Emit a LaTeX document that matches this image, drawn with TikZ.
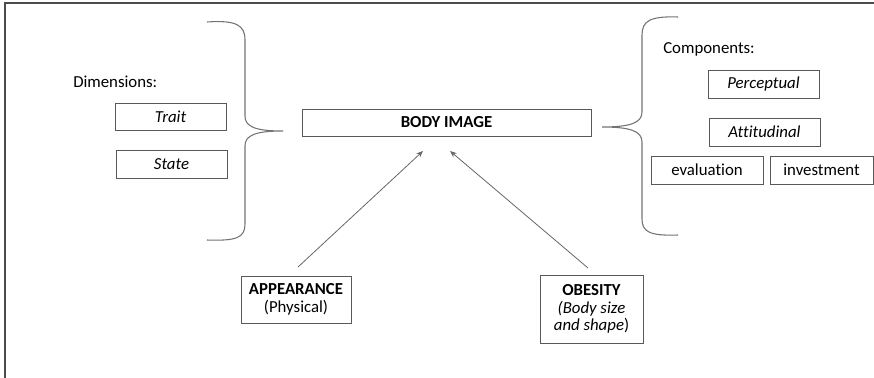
\documentclass[tikz,border=0pt]{standalone}
\usepackage{fontspec}
\setmainfont{Carlito}[Ligatures=NoCommon]
\usetikzlibrary{arrows.meta}
\begin{document}
\begin{tikzpicture}[x=0.75pt,y=-0.75pt,
  box/.style={draw=black!65, line width=0.6pt, inner sep=0pt, align=center, font=\fontsize{12.6}{13.3}\selectfont},
  lbl/.style={inner sep=0pt, anchor=west, font=\fontsize{12.6}{13.3}\selectfont},
  brace/.style={draw=black!55, line width=0.8pt},
  arr/.style={draw=black!60, line width=0.6pt, -{Stealth[length=5pt,width=4pt]}}]
\useasboundingbox (0,0) rectangle (874,378);
% frame (top and left only)
\draw[black!70, line width=1.3pt] (5,378) -- (5,3) -- (874,3);
% left side
\node[lbl] (dim) at (73,82) {Dimensions:};
\node[box, minimum width=111*0.75pt, minimum height=27*0.75pt] (trait) at (170.5,116.5) {\itshape Trait};
\node[box, minimum width=111*0.75pt, minimum height=28*0.75pt] (state) at (171.5,164) {\itshape State};
% centre
\node[box, minimum width=289*0.75pt, minimum height=27*0.75pt] (body) at (446.5,122.5) {\bfseries BODY IMAGE};
% right side
\node[lbl] (comp) at (663,49) {Components:};
\node[box, minimum width=111*0.75pt, minimum height=28*0.75pt] (perc) at (763.5,84) {\itshape Perceptual};
\node[box, minimum width=111*0.75pt, minimum height=28*0.75pt] (att) at (764.5,132) {\itshape Attitudinal};
\node[box, minimum width=112*0.75pt, minimum height=28*0.75pt] (eval) at (707,170) {evaluation};
\node[box, minimum width=103*0.75pt, minimum height=28*0.75pt] (inv) at (821.5,170) {investment};
% bottom
\node[box, minimum width=110*0.75pt, minimum height=47*0.75pt] (app) at (296,299.5) {\bfseries APPEARANCE\\(Physical)};
\node[box, minimum width=103*0.75pt, minimum height=68*0.75pt] (obe) at (591.5,309) {\bfseries OBESITY\\\itshape(Body size\\\itshape and shape\upshape)};
% braces
\draw[brace] (207,22) .. controls (236,20) and (245,25) .. (245,40) -- (245,116)
  .. controls (245,127) and (256,131) .. (283,131)
  .. controls (256,131) and (245,135) .. (245,146) -- (245,224)
  .. controls (245,238) and (236,241) .. (207,240);
\draw[brace] (678,17) .. controls (650,16) and (642,21) .. (642,35) -- (642,112)
  .. controls (642,123) and (630,127) .. (602,127)
  .. controls (630,127) and (642,131) .. (642,142) -- (642,219)
  .. controls (642,232) and (650,236) .. (678,235);
% arrows
\coordinate (a1) at (298,267);
\coordinate (a2) at (423,151);
\coordinate (b1) at (588,268);
\coordinate (b2) at (450,151);
\draw[arr] (a1) -- (a2);
\draw[arr] (b1) -- (b2);
\end{tikzpicture}
\end{document}
